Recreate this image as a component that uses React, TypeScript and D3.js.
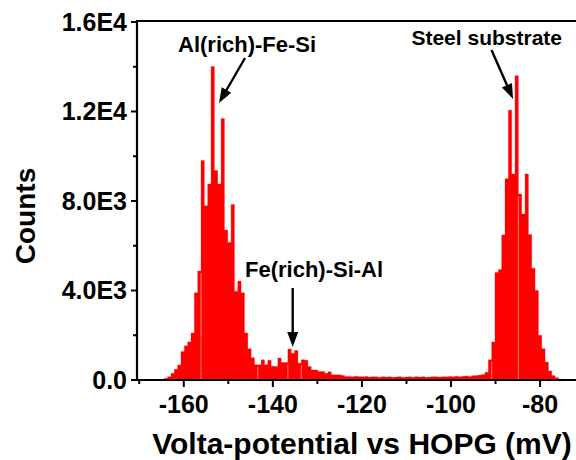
import React from "react";
import * as d3 from "d3";

// Histogram data: bin start (mV), bin width (mV), counts per bin
const binStart = -166.625;
const binWidth = 0.75;
const counts = [
  0, 10, 30, 80, 150, 300, 480, 670, 1270, 1530,
  1700, 2100, 3900, 4870, 9810, 7790, 8760, 14010, 9360, 8760,
  11690, 6700, 6140, 7840, 3970, 4420, 3900, 2100, 1400, 1000,
  680, 680, 900, 680, 880, 620, 600, 980, 780, 780,
  1380, 1200, 1320, 750, 900, 880, 600, 450, 450, 380,
  380, 300, 370, 230, 230, 230, 200, 160, 160, 150,
  170, 150, 140, 160, 130, 150, 140, 120, 150, 130,
  140, 120, 130, 150, 120, 130, 140, 120, 150, 130,
  140, 120, 130, 150, 140, 130, 150, 140, 160, 150,
  170, 150, 170, 180, 160, 190, 200, 220, 250, 350,
  900, 1700, 4800, 4940, 6480, 8990, 12060, 9210, 13600, 8310,
  7420, 9210, 6500, 5000, 4000, 2000, 1400, 800, 400, 200,
  100, 40, 10,
];
// bins whose left edge shows a faint light seam in the original
const seamBins = [14, 31, 40, 44, 101, 109];

const xMajorTicks = [-160, -140, -120, -100, -80];
const xMinorTicks = [-170, -150, -130, -110, -90, -70];
const yMajorTicks = [0, 4000, 8000, 12000, 16000];
const yTickLabels = ["0.0", "4.0E3", "8.0E3", "1.2E4", "1.6E4"];
const yMinorTicks = [2000, 6000, 10000, 14000];

const annotations = [
  { text: "Al(rich)-Fe-Si", tx: 178, ty: 52, anchor: "start", size: 22, x1: 245, y1: 58, x2: 219, y2: 103 },
  { text: "Steel substrate", tx: 562, ty: 45, anchor: "end", size: 21, x1: 491.5, y1: 50, x2: 513, y2: 99 },
  { text: "Fe(rich)-Si-Al", tx: 245, ty: 277, anchor: "start", size: 22, x1: 292.7, y1: 288, x2: 292.7, y2: 347 },
];

const W = 576;
const H = 460;
const left = 137;
const top = 22;
const bottom = 380;
const pxPerMv = 4.454;
const xDomain = [-170.5, -70];

const FONT = "'Liberation Sans', Arial, Helvetica, sans-serif";

function Arrow({ x1, y1, x2, y2 }) {
  const ang = Math.atan2(y2 - y1, x2 - x1);
  const hl = 15;
  const hw = 5.5;
  const bx = x2 - hl * Math.cos(ang);
  const by = y2 - hl * Math.sin(ang);
  const px = -Math.sin(ang) * hw;
  const py = Math.cos(ang) * hw;
  return (
    <g>
      <line x1={x1} y1={y1} x2={bx + 2 * Math.cos(ang)} y2={by + 2 * Math.sin(ang)} stroke="#000" strokeWidth={2.4} />
      <path d={`M${x2},${y2} L${bx + px},${by + py} L${bx - px},${by - py} Z`} fill="#000" />
    </g>
  );
}

export default function App() {
  const x = d3
    .scaleLinear()
    .domain(xDomain)
    .range([left, left + (xDomain[1] - xDomain[0]) * pxPerMv]);
  const y = d3.scaleLinear().domain([0, 16000]).range([bottom, top]);
  const right = x(xDomain[1]);

  const pts = counts.map((c, i) => [binStart + i * binWidth, c]);
  pts.push([binStart + counts.length * binWidth, 0]);
  const area = d3
    .area()
    .x((d) => x(d[0]))
    .y0(bottom)
    .y1((d) => y(d[1]))
    .curve(d3.curveStepAfter);

  return (
    <svg
      width={W}
      height={H}
      style={{ position: "absolute", left: 0, top: 0, background: "#fff" }}
      fontFamily={FONT}
    >
      <rect x={0} y={0} width={W} height={H} fill="#fff" />
      {/* histogram */}
      <path d={area(pts)} fill="#ff0000" stroke="#ff0000" strokeWidth={0.3} />
      {seamBins.map((i) => {
        const xe = x(binStart + i * binWidth);
        const h = Math.min(counts[i], counts[i - 1]);
        return (
          <line key={"s" + i} x1={xe} x2={xe} y1={y(h) + 2} y2={bottom} stroke="#ff9a9a" strokeWidth={0.8} />
        );
      })}

      {/* frame */}
      <g stroke="#000" strokeWidth={2.2} fill="none">
        <line x1={left} y1={top - 1} x2={right + 10} y2={top - 1} />
        <line x1={left} y1={top - 2} x2={left} y2={bottom + 1} />
        <line x1={left - 1} y1={bottom} x2={right + 10} y2={bottom} />
      </g>

      {/* ticks */}
      <g stroke="#000" strokeWidth={2}>
        {xMajorTicks.map((t) => (
          <line key={t} x1={x(t)} x2={x(t)} y1={bottom} y2={bottom + 7} />
        ))}
        {xMinorTicks.map((t) => (
          <line key={t} x1={x(t)} x2={x(t)} y1={bottom} y2={bottom + 4} />
        ))}
        {yMajorTicks.map((t) => (
          <line key={t} x1={left - 6} x2={left} y1={y(t)} y2={y(t)} />
        ))}
        {yMinorTicks.map((t) => (
          <line key={t} x1={left - 4} x2={left} y1={y(t)} y2={y(t)} />
        ))}
      </g>

      {/* tick labels */}
      <g fontWeight="bold" fontSize={25} fill="#000">
        {xMajorTicks.map((t) => (
          <text key={t} x={x(t)} y={413} textAnchor="middle">
            {String(t)}
          </text>
        ))}
        {yMajorTicks.map((t, i) => (
          <text key={t} x={127} y={y(t) + 8.8} textAnchor="end">
            {yTickLabels[i]}
          </text>
        ))}
      </g>

      {/* axis titles */}
      <text x={362} y={454} textAnchor="middle" fontWeight="bold" fontSize={30} fill="#000">
        Volta-potential vs HOPG (mV)
      </text>
      <text
        transform="translate(35,216) rotate(-90)"
        textAnchor="middle"
        fontWeight="bold"
        fontSize={28}
        fill="#000"
      >
        Counts
      </text>

      {/* annotations */}
      {annotations.map((a) => (
        <g key={a.text}>
          <text x={a.tx} y={a.ty} textAnchor={a.anchor} fontWeight="bold" fontSize={a.size} fill="#000">
            {a.text}
          </text>
          <Arrow x1={a.x1} y1={a.y1} x2={a.x2} y2={a.y2} />
        </g>
      ))}
    </svg>
  );
}
